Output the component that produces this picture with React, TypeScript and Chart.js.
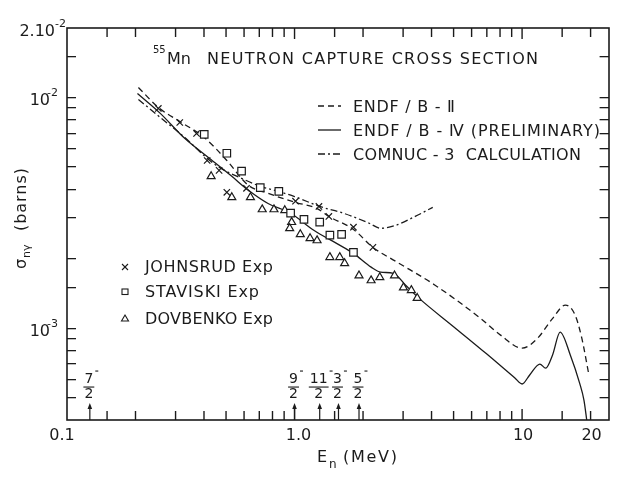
import { useEffect, useRef } from 'react';
import { Chart, registerables } from 'chart.js';

Chart.register(...registerables);

const FAMILY = '"DejaVu Sans", "Liberation Sans", sans-serif';
const INK = '#1b1b1b';

// ENDF/B-II (dashed)
const endf2E = [0.206, 0.252, 0.313, 0.401, 0.504, 0.627, 0.765, 1.01, 1.256, 1.415, 1.815, 2.21, 2.78, 4.13, 6.59, 8.04, 10, 11.7, 13.6, 15.5, 17.1, 18.3, 19.6];
const endf2S = [1.105e-2, 9.05e-3, 7.87e-3, 6.71e-3, 5.33e-3, 4.16e-3, 3.84e-3, 3.51e-3, 3.3e-3, 3.05e-3, 2.68e-3, 2.24e-3, 1.95e-3, 1.54e-3, 1.1e-3, 9.33e-4, 8.19e-4, 9.05e-4, 1.1e-3, 1.26e-3, 1.14e-3, 9.05e-4, 6.38e-4];

// ENDF/B-IV preliminary (solid)
const endf4E = [0.204, 0.257, 0.329, 0.422, 0.53, 0.627, 0.765, 0.961, 1.22, 1.53, 1.815, 2.17, 2.39, 2.72, 3.07, 3.49, 5, 7, 9.3, 10, 10.8, 11.97, 12.7, 13.6, 14.7, 16.3, 17.9, 18.7, 19.3];
const endf4S = [1.04e-2, 8.53e-3, 6.65e-3, 5.45e-3, 4.55e-3, 3.96e-3, 3.47e-3, 3.15e-3, 2.65e-3, 2.33e-3, 2.11e-3, 1.84e-3, 1.75e-3, 1.73e-3, 1.54e-3, 1.36e-3, 1.015e-3, 7.72e-4, 6.08e-4, 5.73e-4, 6.27e-4, 6.99e-4, 6.71e-4, 7.64e-4, 9.62e-4, 7.64e-4, 5.78e-4, 4.88e-4, 3.9e-4];

// COMNUC-3 calculation (dash-dot)
const comnucE = [0.206, 0.257, 0.329, 0.413, 0.466, 0.585, 0.707, 0.845, 1.0, 1.29, 1.64, 2.13, 2.39, 2.78, 3.39, 4.05];
const comnucS = [9.8e-3, 8.19e-3, 6.71e-3, 5.45e-3, 4.98e-3, 4.46e-3, 4.12e-3, 3.92e-3, 3.72e-3, 3.37e-3, 3.15e-3, 2.85e-3, 2.71e-3, 2.79e-3, 3.05e-3, 3.34e-3];

// Experiments
const johnsrudE = [0.252, 0.313, 0.371, 0.413, 0.466, 0.504, 0.615, 1.01, 1.28, 1.415, 1.815, 2.21];
const johnsrudS = [8.96e-3, 7.79e-3, 6.98e-3, 5.33e-3, 4.83e-3, 3.88e-3, 4.04e-3, 3.55e-3, 3.37e-3, 3.05e-3, 2.74e-3, 2.24e-3];
const staviskiE = [0.401, 0.504, 0.585, 0.707, 0.853, 0.961, 1.1, 1.29, 1.43, 1.61, 1.815];
const staviskiS = [6.92e-3, 5.73e-3, 4.79e-3, 4.07e-3, 3.92e-3, 3.15e-3, 2.96e-3, 2.88e-3, 2.53e-3, 2.55e-3, 2.13e-3];
const dovbenkoE = [0.43, 0.53, 0.64, 0.721, 0.812, 0.906, 0.971, 0.952, 1.06, 1.17, 1.256, 1.43, 1.58, 1.66, 1.92, 2.17, 2.37, 2.75, 3.01, 3.26, 3.46];
const dovbenkoS = [4.55e-3, 3.69e-3, 3.69e-3, 3.27e-3, 3.27e-3, 3.24e-3, 2.88e-3, 2.71e-3, 2.55e-3, 2.45e-3, 2.4e-3, 2.03e-3, 2.03e-3, 1.91e-3, 1.69e-3, 1.61e-3, 1.66e-3, 1.69e-3, 1.5e-3, 1.46e-3, 1.35e-3];

// Axes
const X_MIN = 0.1;
const X_MAX = 24;
const Y_MIN = 4e-4;
const Y_MAX = 2e-2;
const xTickValues = [0.15, 0.2, 0.3, 0.4, 0.5, 0.6, 0.7, 0.8, 0.9, 1, 1.5, 2, 3, 4, 5, 6, 7, 8, 9, 10, 15, 20];
const xMajorValues = [1, 10];
const yTickValues = [5e-4, 6e-4, 7e-4, 8e-4, 9e-4, 1e-3, 1.5e-3, 2e-3, 3e-3, 4e-3, 5e-3, 6e-3, 7e-3, 8e-3, 9e-3, 1e-2, 1.5e-2];
const xLabelValues = [0.1, 1, 10, 20];
const xLabelTexts = ['0.1', '1.0', '10', '20'];
const yLabelValues = [2e-2, 1e-2, 1e-3];
const yLabelMantissa = ['2.10', '10', '10'];
const yLabelExponent = ['-2', '-2', '-3'];

// Level spins marked by arrows
const spinEnergies = [0.126, 1.0, 1.29, 1.56, 1.92];
const spinNumerators = ['7', '9', '11', '3', '5'];

const pts = (ex: number[], sy: number[]) => ex.map((x, i) => ({ x, y: sy[i] }));

function fitText(ctx: CanvasRenderingContext2D, text: string, x: number, y: number, w: number, size: number) {
  ctx.font = `${size}px ${FAMILY}`;
  (ctx as any).letterSpacing = '0px';
  const natural = ctx.measureText(text).width;
  const n = Array.from(text).length;
  const ls = n > 1 ? (w - natural) / (n - 1) : 0;
  (ctx as any).letterSpacing = `${ls}px`;
  ctx.textAlign = 'left';
  ctx.fillText(text, x, y);
  (ctx as any).letterSpacing = '0px';
}

function seg(ctx: CanvasRenderingContext2D, x1: number, y1: number, x2: number, y2: number) {
  ctx.beginPath();
  ctx.moveTo(x1, y1);
  ctx.lineTo(x2, y2);
  ctx.stroke();
}

const overlay = {
  id: 'overlay',
  afterDraw(chart: any) {
    const ctx: CanvasRenderingContext2D = chart.ctx;
    const sx = chart.scales.x;
    const sy = chart.scales.y;
    const a = chart.chartArea;
    const L = Math.round(a.left);
    const R = Math.round(a.right);
    const T = Math.round(a.top);
    const B = Math.round(a.bottom);
    ctx.save();
    ctx.strokeStyle = INK;
    ctx.fillStyle = INK;
    ctx.setLineDash([]);
    ctx.textBaseline = 'alphabetic';

    // frame
    ctx.lineWidth = 1.6;
    ctx.strokeRect(L, T, R - L, B - T);

    // x tick labels
    ctx.font = `16px ${FAMILY}`;
    ctx.textAlign = 'center';
    xLabelValues.forEach((v, i) => {
      const px = sx.getPixelForValue(v);
      const shift = i === 0 ? -5 : i === 1 ? 4 : 1;
      ctx.fillText(xLabelTexts[i], px + shift, B + 20);
    });

    // y tick labels
    yLabelValues.forEach((v, i) => {
      const py = sy.getPixelForValue(v);
      const right = i === 0 ? L - 12 : L - 17;
      ctx.font = `16px ${FAMILY}`;
      ctx.textAlign = 'right';
      ctx.fillText(yLabelMantissa[i], right, py + 8);
      ctx.font = `11px ${FAMILY}`;
      ctx.textAlign = 'left';
      ctx.fillText(yLabelExponent[i], i === 0 ? right : right - 3, py - 1);
    });

    // spin arrows
    spinEnergies.forEach((e, i) => {
      const px = sx.getPixelForValue(e);
      ctx.fillRect(px - 0.6, B - 12, 1.2, 12);
      ctx.beginPath();
      ctx.moveTo(px, B - 17);
      ctx.lineTo(px - 2.3, B - 11);
      ctx.lineTo(px + 2.3, B - 11);
      ctx.closePath();
      ctx.fill();
      ctx.font = `14px ${FAMILY}`;
      ctx.textAlign = 'center';
      const num = spinNumerators[i];
      const nw = ctx.measureText(num).width;
      ctx.fillText(num, px - 1, B - 37);
      ctx.fillText('2', px - 1, B - 22);
      const bw = Math.max(nw, 8) + 2;
      ctx.fillRect(px - 1 - bw / 2, B - 33.5, bw, 1.1);
      ctx.fillRect(px + bw / 2, B - 49.5, 3, 1.1);
    });

    // title
    ctx.font = `10px ${FAMILY}`;
    ctx.textAlign = 'left';
    ctx.fillText('55', 153, 53);
    ctx.font = `16px ${FAMILY}`;
    ctx.fillText('Mn', 167, 64);
    fitText(ctx, 'NEUTRON CAPTURE CROSS SECTION', 207, 64, 331, 16);

    // line legend
    const samples: [number[], number, string, number][] = [
      [[6, 4], 106, 'ENDF / B - Ⅱ', 102],
      [[], 130, 'ENDF / B - Ⅳ (PRELIMINARY)', 247],
      [[7, 3, 2, 3], 154, 'COMNUC - 3  CALCULATION', 228],
    ];
    samples.forEach(([dash, y, text, w]) => {
      ctx.lineWidth = 1.3;
      ctx.setLineDash(dash);
      seg(ctx, 318, y, 341, y);
      ctx.setLineDash([]);
      fitText(ctx, text, 353, y + 6, w, 16);
    });

    // marker legend
    ctx.lineWidth = 1.1;
    seg(ctx, 122, 264, 128, 270);
    seg(ctx, 128, 264, 122, 270);
    ctx.strokeRect(122, 289, 6, 5.5);
    ctx.beginPath();
    ctx.moveTo(125, 315);
    ctx.lineTo(128.5, 321);
    ctx.lineTo(121.5, 321);
    ctx.closePath();
    ctx.stroke();
    fitText(ctx, 'JOHNSRUD Exp', 145, 272, 128, 16);
    fitText(ctx, 'STAVISKI Exp', 145, 297, 114, 16);
    fitText(ctx, 'DOVBENKO Exp', 145, 324, 128, 16);

    // x axis title
    ctx.font = `16px ${FAMILY}`;
    ctx.textAlign = 'left';
    ctx.fillText('E', 317, 462);
    ctx.font = `12px ${FAMILY}`;
    ctx.fillText('n', 329, 468);
    fitText(ctx, '(MeV)', 343, 462, 54, 16);

    // y axis title (rotated)
    ctx.save();
    ctx.translate(26, 269);
    ctx.rotate(-Math.PI / 2);
    ctx.font = `16px ${FAMILY}`;
    ctx.textAlign = 'left';
    ctx.fillText('σ', 0, 0);
    ctx.font = `11px ${FAMILY}`;
    ctx.fillText('nγ', 11, 4);
    fitText(ctx, '(barns)', 38, 0, 63, 16);
    ctx.restore();

    ctx.restore();
  },
};

export default function App() {
  const ref = useRef<HTMLCanvasElement>(null);
  useEffect(() => {
    if (!ref.current) return;
    const lineBase = {
      showLine: true,
      borderColor: INK,
      borderWidth: 1.3,
      pointRadius: 0,
      cubicInterpolationMode: 'monotone' as const,
      fill: false,
    };
    const markBase = {
      showLine: false,
      borderColor: INK,
      pointBorderColor: INK,
      pointBackgroundColor: '#ffffff',
      backgroundColor: '#ffffff',
      pointBorderWidth: 1.2,
    };
    // x-axis tick marks: vertical line markers centred on the top and bottom
    // borders, clipped to the plot area so only the inward half shows
    const tickRadius = xTickValues.map((v) => (xMajorValues.indexOf(v) >= 0 ? 11 : 9));
    const tickMarks = (yv: number) => ({
      label: '',
      data: xTickValues.map((v) => ({ x: v, y: yv })),
      showLine: false,
      pointStyle: 'line',
      rotation: 90,
      pointRotation: 90,
      pointRadius: tickRadius,
      pointBorderColor: INK,
      borderColor: INK,
      pointBorderWidth: 1.4,
      borderWidth: 1.4,
      clip: 0,
    });
    // y-axis scales draw their own inward tick marks (negative tick length)
    const tickGrid = { display: true, drawOnChartArea: false, drawTicks: true, tickLength: -9, color: INK, tickColor: INK, tickWidth: 1.3, lineWidth: 1.3 };
    const yAxis = (position: string) => ({
      type: 'logarithmic' as const,
      position,
      min: Y_MIN,
      max: Y_MAX,
      display: true,
      border: { display: false },
      grid: tickGrid,
      ticks: { display: false, autoSkip: false },
      afterBuildTicks: (s: any) => { s.ticks = yTickValues.map((v) => ({ value: v })); },
      afterFit: (s: any) => { s.width = 0; },
    });
    const chart = new Chart(ref.current, {
      type: 'scatter',
      data: {
        datasets: [
          { ...markBase, label: 'JOHNSRUD Exp', data: pts(johnsrudE, johnsrudS), pointStyle: 'crossRot', pointRadius: 4.5 },
          { ...markBase, label: 'STAVISKI Exp', data: pts(staviskiE, staviskiS), pointStyle: 'rect', pointRadius: 5.3 },
          { ...markBase, label: 'DOVBENKO Exp', data: pts(dovbenkoE, dovbenkoS), pointStyle: 'triangle', pointRadius: 4.6 },
          { ...lineBase, label: 'ENDF/B-II', data: pts(endf2E, endf2S), borderDash: [6, 4] },
          { ...lineBase, label: 'ENDF/B-IV (PRELIMINARY)', data: pts(endf4E, endf4S) },
          { ...lineBase, label: 'COMNUC-3 CALCULATION', data: pts(comnucE, comnucS), borderDash: [7, 3, 2, 3] },
          tickMarks(Y_MIN),
          tickMarks(Y_MAX),
        ] as any,
      },
      options: {
        animation: false,
        responsive: false,
        devicePixelRatio: 1,
        events: [],
        layout: { padding: { left: 67, right: 4, top: 28, bottom: 58 } },
        scales: {
          x: { type: 'logarithmic', min: X_MIN, max: X_MAX, display: false },
          y: yAxis('left'),
          y2: yAxis('right'),
        } as any,
        plugins: {
          legend: { display: false },
          tooltip: { enabled: false },
        },
      },
      plugins: [overlay],
    });
    return () => chart.destroy();
  }, []);
  return (
    <div style={{ position: 'fixed', left: 0, top: 0, width: 621, height: 478, background: '#ffffff' }}>
      <canvas ref={ref} width={621} height={478} style={{ display: 'block' }} />
    </div>
  );
}
